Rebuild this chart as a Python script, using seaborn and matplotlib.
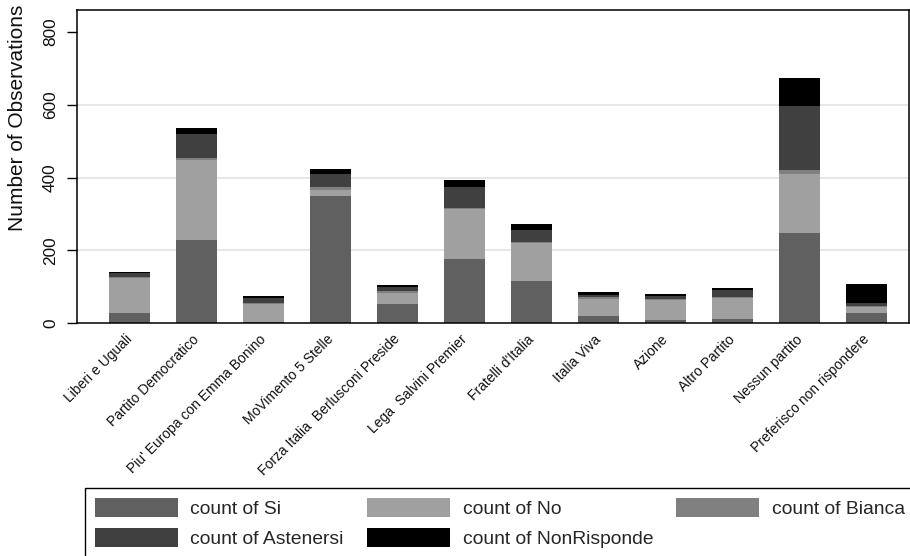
import matplotlib
matplotlib.use("Agg")
import matplotlib.pyplot as plt
import matplotlib.transforms as mtransforms
from matplotlib.patches import Patch
import numpy as np
import seaborn as sns

categories = ["Liberi e Uguali", "Partito Democratico", "Piu' Europa con Emma Bonino",
              "MoVimento 5 Stelle", "Forza Italia  Berlusconi Preside", "Lega  Salvini Premier",
              "Fratelli d'Italia", "Italia Viva", "Azione", "Altro Partito",
              "Nessun partito", "Preferisco non rispondere"]
si = [29, 229, 4, 349, 53, 176, 117, 20, 9, 12, 248, 29]
no = [96, 219, 49, 17, 31, 137, 104, 47, 55, 57, 163, 17]
bianca = [3, 6, 4, 8, 5, 4, 3, 5, 3, 3, 10, 2]
astenersi = [9, 65, 12, 36, 11, 57, 32, 6, 8, 20, 175, 7]
nonrisponde = [5, 17, 6, 13, 5, 19, 16, 7, 5, 6, 77, 53]

series_names = ["count of Si", "count of No", "count of Bianca", "count of Astenersi", "count of NonRisponde"]
series_vals = [si, no, bianca, astenersi, nonrisponde]
colors = ["#606060", "#a0a0a0", "#808080", "#404040", "#000000"]

yticks = [0, 200, 400, 600, 800]

sns.set_style("white")
plt.rcParams["font.family"] = ["Liberation Sans", "DejaVu Sans"]

fig = plt.figure(figsize=(9.10, 5.56), dpi=100)
ax = fig.add_axes([76.7 / 910, 1 - 323.3 / 556, (909 - 76.7) / 910, (323.3 - 10) / 556])

cum = np.cumsum(np.array(series_vals, dtype=float), axis=0)
for i in range(len(series_vals) - 1, -1, -1):
    sns.barplot(x=categories, y=cum[i], order=categories, color=colors[i], saturation=1,
                width=0.61, linewidth=0, ax=ax)

ax.set_xlim(-0.788, 11.63)
ax.set_ylim(0, 860)
ax.set_yticks(yticks)
ax.set_yticklabels([str(v) for v in yticks], fontsize=12.4, rotation=90, va="center")
ax.grid(axis="y", color="#e3e3e3", linewidth=1.2)
ax.set_axisbelow(True)
ygl = ax.get_ygridlines()
ygl[0].set_visible(False)
ygl[-1].set_visible(False)

for sp in ax.spines.values():
    sp.set_color("black")
    sp.set_linewidth(1.1)
    sp.set_visible(True)

ax.tick_params(axis="y", length=7, width=1, color="black", pad=6.5, left=True, labelcolor="#111111")
ax.tick_params(axis="x", length=0, pad=10, labelsize=10, labelcolor="#111111")
offset = mtransforms.ScaledTranslation(0.5 / 100, 0, fig.dpi_scale_trans)
for lab in ax.get_xticklabels():
    lab.set_rotation(45)
    lab.set_ha("right")
    lab.set_va("center")
    lab.set_rotation_mode("anchor")
    lab.set_transform(lab.get_transform() + offset)

ax.set_xlabel("")
ax.set_ylabel("Number of Observations", fontsize=15, color="#111111")
ax.yaxis.set_label_coords(-0.0597, 0.657)

order = [0, 3, 1, 4, 2]
handles = [Patch(facecolor=colors[k], edgecolor="none", label=series_names[k]) for k in order]
leg = fig.legend(handles=handles, loc="upper left", bbox_to_anchor=(85 / 910, 1 - 488 / 556),
                 ncol=3, fontsize=13.85, handlelength=4.31, handleheight=1.2, handletextpad=0.67,
                 columnspacing=1.2, labelspacing=0.5, borderpad=0.5, borderaxespad=0,
                 fancybox=False, framealpha=1, edgecolor="black")
leg.get_frame().set_linewidth(1.0)

fig.savefig("out.png", dpi=100)
